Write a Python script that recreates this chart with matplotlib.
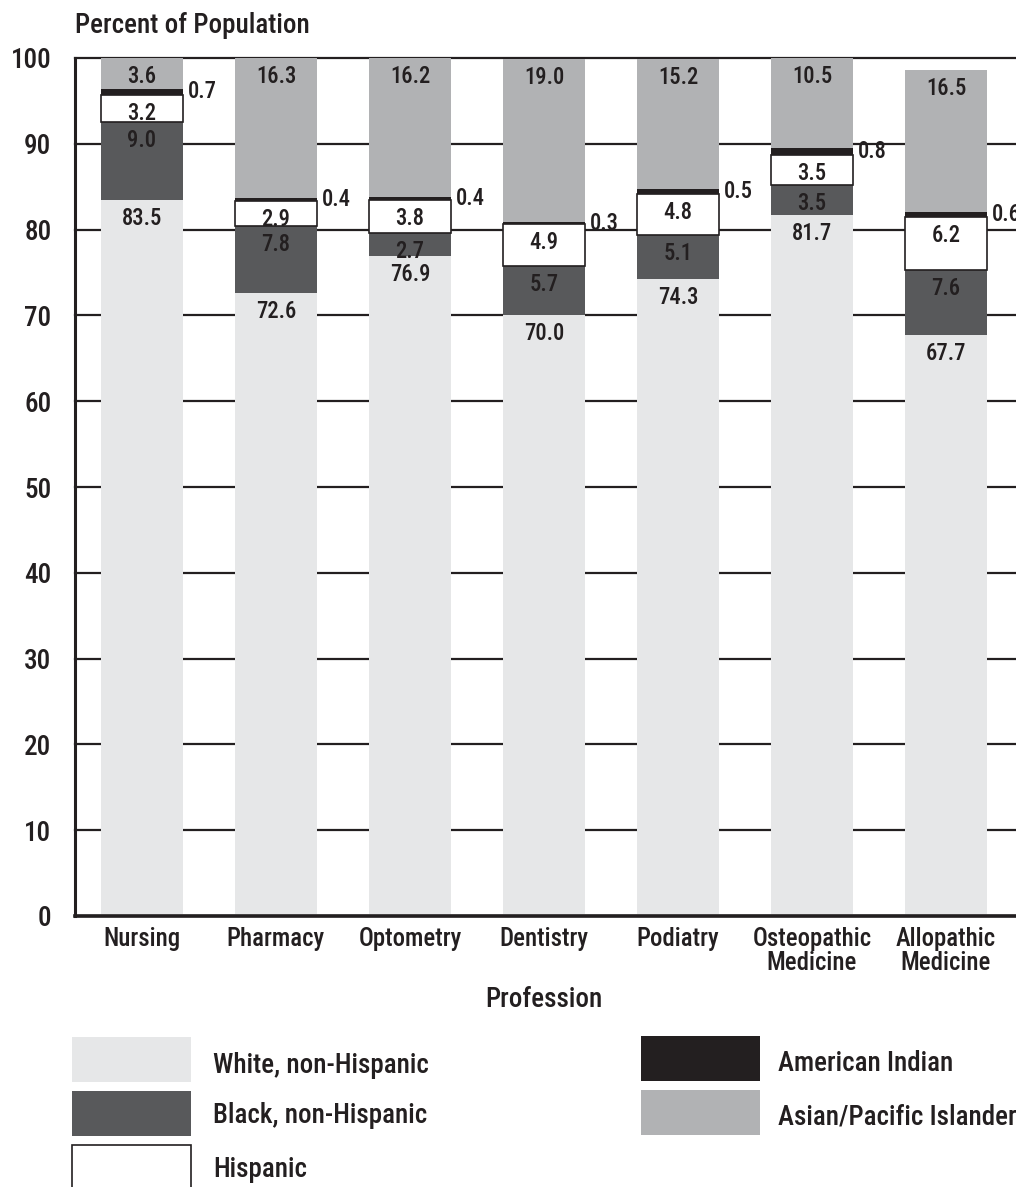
import matplotlib
matplotlib.use("Agg")
import matplotlib.pyplot as plt
from matplotlib import font_manager as fm
from matplotlib.patches import Rectangle
import matplotlib.transforms as mtransforms
import numpy as np

# ---- data -------------------------------------------------------------
professions = ["Nursing", "Pharmacy", "Optometry", "Dentistry", "Podiatry",
               "Osteopathic\nMedicine", "Allopathic\nMedicine"]
white = [83.5, 72.6, 76.9, 70.0, 74.3, 81.7, 67.7]
black = [9.0, 7.8, 2.7, 5.7, 5.1, 3.5, 7.6]
hispanic = [3.2, 2.9, 3.8, 4.9, 4.8, 3.5, 6.2]
american_indian = [0.7, 0.4, 0.4, 0.3, 0.5, 0.8, 0.6]
asian_pi = [3.6, 16.3, 16.2, 19.0, 15.2, 10.5, 16.5]

series_names = ["White, non-Hispanic", "Black, non-Hispanic", "Hispanic",
                "American Indian", "Asian/Pacific Islander"]
y_ticks = [0, 10, 20, 30, 40, 50, 60, 70, 80, 90, 100]

# ---- style ------------------------------------------------------------
avail = {f.name for f in fm.fontManager.ttflist}
FONT = "Liberation Sans"
for cand in ["Roboto Condensed", "Liberation Sans Narrow", "Open Sans Condensed",
             "DejaVu Sans Condensed"]:
    if cand in avail:
        FONT = cand
        break
weights = {f.weight for f in fm.fontManager.ttflist if f.name == FONT}
has_medium = any(w in (500, "medium") for w in weights)
plt.rcParams["font.family"] = [FONT, "DejaVu Sans"]
plt.rcParams["font.weight"] = 500 if has_medium else "normal"
S = 1.05 if has_medium else 1.12

INK = "#231f20"
colors = ["#e6e7e8", "#58595b", "#ffffff", INK, "#b1b2b4"]

W, H = 1016, 1187
fig = plt.figure(figsize=(W / 100, H / 100), dpi=100)


def fx(x):
    return x / W


def fy(y):
    return 1 - y / H


ax = fig.add_axes([fx(75), fy(916), fx(1016) - fx(75), fy(58) - fy(916)])

x = np.arange(len(professions))
bar_w = 0.61
stack = [white, black, hispanic, american_indian, asian_pi]
bottom = np.zeros(len(professions))
label_off = mtransforms.offset_copy(ax.transData, fig=fig, x=0, y=-7, units="dots")
side_off = mtransforms.offset_copy(ax.transData, fig=fig, x=5, y=0, units="dots")

for k, vals in enumerate(stack):
    vals = np.asarray(vals)
    if k == 2:
        ax.bar(x, vals, bar_w, bottom=bottom, color=colors[k], edgecolor=INK,
               linewidth=1.2, zorder=3)
    else:
        ax.bar(x, vals, bar_w, bottom=bottom, color=colors[k], linewidth=0,
               zorder=3)
    for i, v in enumerate(vals):
        top = bottom[i] + v
        if k == 3:
            ax.text(x[i] + bar_w / 2, bottom[i] + v / 2, f"{v:.1f}",
                    transform=side_off, ha="left", va="center",
                    fontsize=15.5 * S, color=INK, zorder=5, clip_on=False)
        else:
            ax.text(x[i], top, f"{v:.1f}", transform=label_off,
                    ha="center", va="top", fontsize=15.5 * S, color=INK, zorder=5)
    bottom = bottom + vals

ax.set_xlim(-0.5, 6.5 + 3 / 134)
ax.set_ylim(0, 100)
ax.set_yticks(y_ticks)
ax.set_yticklabels([str(t) for t in y_ticks], fontsize=19.5, color=INK)
ax.set_xticks(x)
ax.set_xticklabels(professions, fontsize=17 * S, color=INK, linespacing=1.0)
ax.tick_params(axis="y", length=0, pad=17)
ax.tick_params(axis="x", length=0, pad=8)

ax.yaxis.grid(True, color=INK, linewidth=1.6)
for gl in ax.get_ygridlines():
    gl.set_clip_on(False)
ax.set_axisbelow(True)

for s in ["top", "right"]:
    ax.spines[s].set_visible(False)
ax.spines["left"].set_linewidth(2.2)
ax.spines["left"].set_color(INK)
ax.spines["bottom"].set_linewidth(2.6)
ax.spines["bottom"].set_color(INK)
ax.spines["bottom"].set_zorder(4)

fig.text(fx(75), fy(33), "Percent of Population", fontsize=18.5 * S, color=INK,
         ha="left", va="baseline")
fig.text(fx(544), fy(1007), "Profession", fontsize=18.5 * S, color=INK,
         ha="center", va="baseline")

# ---- legend -----------------------------------------------------------
# (series index, box left, box top, text left, text baseline) in pixels
legend_items = [
    (0, 72, 1037, 213, 1073),
    (1, 72, 1091, 213, 1123),
    (2, 72, 1145, 213, 1177),
    (3, 641, 1036, 778, 1071),
    (4, 641, 1090, 778, 1124),
]
box_w, box_h = 119, 45
for k, bx, by, tx, ty in legend_items:
    rect = Rectangle((fx(bx), fy(by + box_h)), fx(box_w), box_h / H,
                     transform=fig.transFigure,
                     facecolor=colors[k],
                     edgecolor=INK if k == 2 else "none",
                     linewidth=1.2 if k == 2 else 0)
    fig.add_artist(rect)
    fig.text(fx(tx), fy(ty), series_names[k], fontsize=18.5 * S,
             color=INK, ha="left", va="baseline")

fig.savefig("out.png", dpi=100)
